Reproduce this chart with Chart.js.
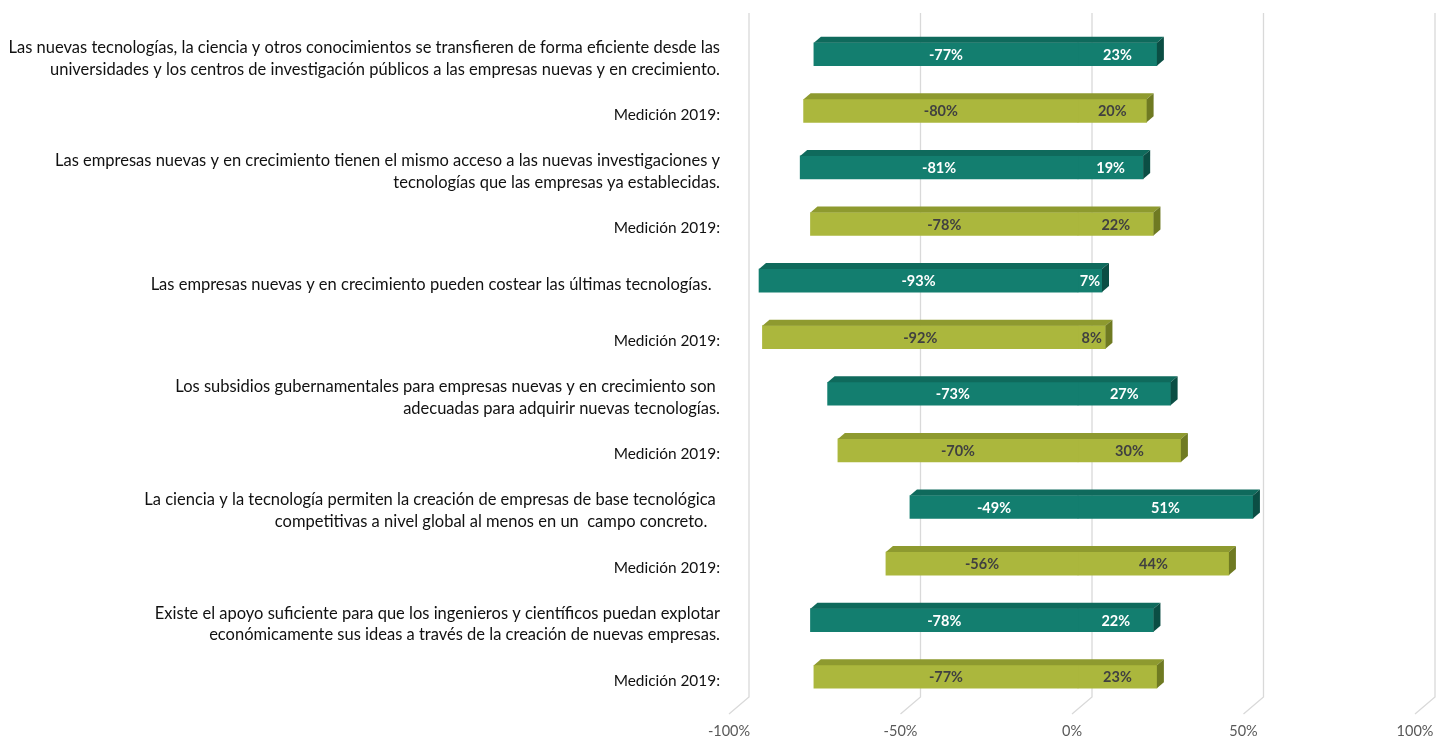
<!DOCTYPE html>
<html>
<head>
<meta charset="utf-8">
<script src="https://cdn.jsdelivr.net/npm/chart.js@4"></script>
<style>
html,body{margin:0;padding:0;background:#fff;}
#wrap{width:1448px;height:742px;}
</style>
</head>
<body>
<div id="wrap"><canvas id="c" width="1448" height="742"></canvas></div>
<script>
const categories = [
  ['Las nuevas tecnologías, la ciencia y otros conocimientos se transfieren de forma eficiente desde las', 'universidades y los centros de investigación públicos a las empresas nuevas y en crecimiento.'],
  'Medición 2019:',
  ['Las empresas nuevas y en crecimiento tienen el mismo acceso a las nuevas investigaciones y', 'tecnologías que las empresas ya establecidas.'],
  'Medición 2019:',
  'Las empresas nuevas y en crecimiento pueden costear las últimas tecnologías.  ',
  'Medición 2019:',
  ['Los subsidios gubernamentales para empresas nuevas y en crecimiento son ', 'adecuadas para adquirir nuevas tecnologías.'],
  'Medición 2019:',
  ['La ciencia y la tecnología permiten la creación de empresas de base tecnológica ', 'competitivas a nivel global al menos en un  campo concreto.   '],
  'Medición 2019:',
  ['Existe el apoyo suficiente para que los ingenieros y científicos puedan explotar', 'económicamente sus ideas a través de la creación de nuevas empresas.'],
  'Medición 2019:'
];
const negValues = [-77, -80, -81, -78, -93, -92, -73, -70, -49, -56, -78, -77];
const posValues = [23, 20, 19, 22, 7, 8, 27, 30, 51, 44, 22, 23];
const isPrevious = [false, true, false, true, false, true, false, true, false, true, false, true];
const tickValues = [-100, -50, 0, 50, 100];

const FRONT = {cur: '#137e6f', prev: '#abb73d'};
const TOP = {cur: '#0f6a5c', prev: '#8e9a2f'};
const SIDE = {cur: '#0b4e44', prev: '#6f7a22'};
const LABELCOL = {cur: '#ffffff', prev: '#404040'};
const FONT = 'Lato, "Liberation Sans", sans-serif';

const barColors = isPrevious.map(p => p ? FRONT.prev : FRONT.cur);

const gridPlugin = {
  id: 'grid3d',
  beforeDatasetsDraw(chart) {
    const {ctx, chartArea, scales} = chart;
    const xs = scales.x;
    ctx.save();
    ctx.strokeStyle = '#d9d9d9';
    ctx.lineWidth = 1.3;
    tickValues.forEach(v => {
      const xp = xs.getPixelForValue(v);
      ctx.beginPath();
      ctx.moveTo(xp + 14, chartArea.top - 13);
      ctx.lineTo(xp + 14, chartArea.bottom - 8);
      ctx.lineTo(xp - 6, chartArea.bottom + 9);
      ctx.stroke();
    });
    ctx.restore();
  }
};

const bar3dPlugin = {
  id: 'bar3d',
  afterDatasetsDraw(chart) {
    const {ctx} = chart;
    const m0 = chart.getDatasetMeta(0).data;
    const m1 = chart.getDatasetMeta(1).data;
    const dx = 7, dy = 6;
    ctx.save();
    m0.forEach((el, i) => {
      const el2 = m1[i];
      const left = Math.min(el.x, el.base, el2.x, el2.base);
      const right = Math.max(el.x, el.base, el2.x, el2.base);
      const top = el.y - el.height / 2;
      const bottom = el.y + el.height / 2;
      const k = isPrevious[i] ? 'prev' : 'cur';
      ctx.fillStyle = TOP[k];
      ctx.beginPath();
      ctx.moveTo(left, top);
      ctx.lineTo(left + dx, top - dy);
      ctx.lineTo(right + dx, top - dy);
      ctx.lineTo(right, top);
      ctx.closePath();
      ctx.fill();
      ctx.fillStyle = SIDE[k];
      ctx.beginPath();
      ctx.moveTo(right, top);
      ctx.lineTo(right + dx, top - dy);
      ctx.lineTo(right + dx, bottom - dy);
      ctx.lineTo(right, bottom);
      ctx.closePath();
      ctx.fill();
    });
    ctx.font = 'bold 14.5px ' + FONT;
    ctx.textAlign = 'center';
    ctx.textBaseline = 'middle';
    [0, 1].forEach(d => {
      const data = chart.data.datasets[d].data;
      chart.getDatasetMeta(d).data.forEach((el, i) => {
        const k = isPrevious[i] ? 'prev' : 'cur';
        ctx.fillStyle = LABELCOL[k];
        ctx.fillText(data[i] + '%', (el.x + el.base) / 2, el.y + 1);
      });
    });
    ctx.restore();
  }
};

new Chart(document.getElementById('c'), {
  type: 'bar',
  data: {
    labels: categories,
    datasets: [
      {label: 'neg', data: negValues, backgroundColor: barColors, borderWidth: 0, barThickness: 23},
      {label: 'pos', data: posValues, backgroundColor: barColors, borderWidth: 0, barThickness: 23}
    ]
  },
  options: {
    indexAxis: 'y',
    responsive: false,
    animation: false,
    devicePixelRatio: 1,
    layout: {padding: {top: 23, right: 27, left: 0, bottom: 0}},
    plugins: {legend: {display: false}, tooltip: {enabled: false}},
    scales: {
      x: {
        stacked: true,
        min: -100,
        max: 100,
        afterBuildTicks(s) { s.ticks = tickValues.map(v => ({value: v})); },
        afterFit(s) { s.height = 32.5; s.paddingLeft = 0; s.paddingRight = 0; },
        grid: {display: false, drawTicks: false},
        border: {display: false},
        ticks: {
          callback: v => v + '%',
          color: '#595959',
          font: {family: FONT, size: 14.5},
          padding: 18,
          labelOffset: -6,
          maxRotation: 0,
          autoSkip: false
        }
      },
      y: {
        stacked: true,
        afterFit(s) { s.width = 735; },
        grid: {display: false, drawTicks: false},
        border: {display: false},
        ticks: {
          color: '#111111',
          font: (c) => ({family: FONT, size: isPrevious[c.index] ? 15.4 : 16.5, lineHeight: isPrevious[c.index] ? 1.42 : 1.33}),
          padding: 15,
          labelOffset: 4,
          autoSkip: false
        }
      }
    }
  },
  plugins: [gridPlugin, bar3dPlugin]
});
</script>
</body>
</html>
